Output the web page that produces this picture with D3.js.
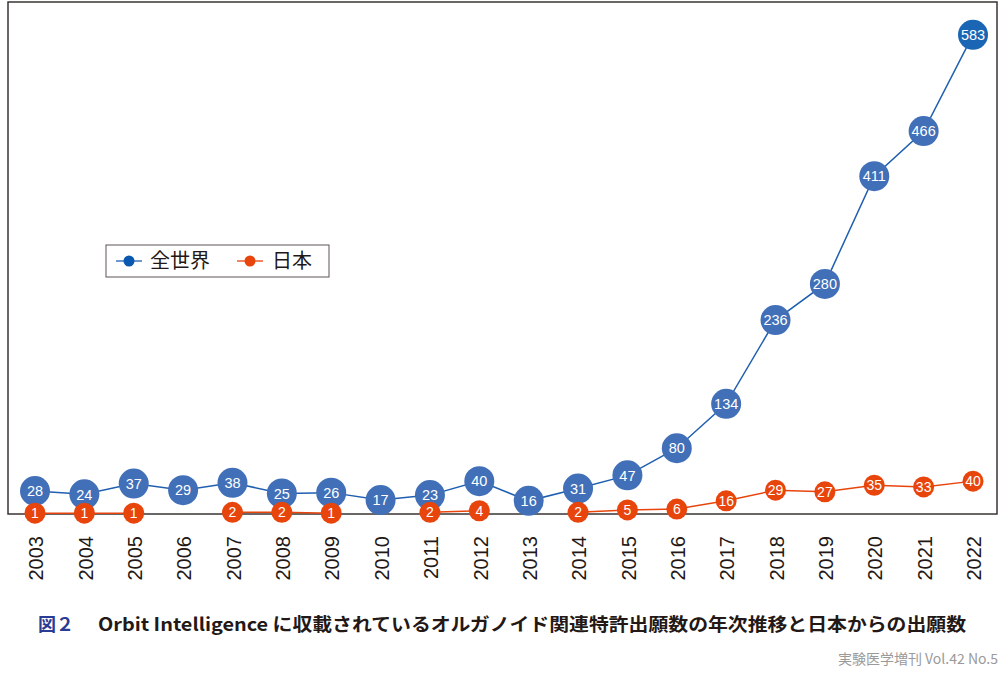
<!DOCTYPE html>
<html>
<head>
<meta charset="utf-8">
<script src="https://cdn.jsdelivr.net/npm/d3@7"></script>
<style>
  body { margin: 0; background: #fff; }
  svg { display: block; }
</style>
</head>
<body>
<svg id="chart" width="1000" height="678"></svg>
<script>
// data
const years = [2003, 2004, 2005, 2006, 2007, 2008, 2009, 2010, 2011, 2012,
               2013, 2014, 2015, 2016, 2017, 2018, 2019, 2020, 2021, 2022];
const worldCounts = [28, 24, 37, 29, 38, 25, 26, 17, 23, 40,
                     16, 31, 47, 80, 134, 236, 280, 411, 466, 583];
const japanCounts = [1, 1, 1, null, 2, 2, 1, null, 2, 4,
                     null, 2, 5, 6, 16, 29, 27, 35, 33, 40];
const seriesNames = ["全世界", "日本"];
const captionLabel = "図２";
const captionText = "Orbit Intelligence に収載されているオルガノイド関連特許出願数の年次推移と日本からの出願数";
const sourceText = "実験医学増刊 Vol.42 No.5";

const plot = { left: 8, top: 2, right: 997, bottom: 514 };
const blueLine = "#1f5fb0", blueDot = "#4170b8";
const orange = "#e8450c";
const numFont = "'Liberation Sans', Arial, sans-serif";
const jpFont = "'Noto Sans CJK JP', 'Noto Sans', sans-serif";

const svg = d3.select("#chart");

const xScale = d3.scalePoint()
    .domain(years)
    .range([35, 973]);

const yScale = d3.scaleLinear()
    .domain([0, 623])
    .range([plot.bottom, plot.top]);

// frame
svg.append("rect")
    .attr("x", plot.left)
    .attr("y", plot.top)
    .attr("width", plot.right - plot.left)
    .attr("height", plot.bottom - plot.top)
    .attr("fill", "none")
    .attr("stroke", "#3a3433")
    .attr("stroke-width", 1.5);

// x axis labels
const xAxis = svg.append("g")
    .attr("transform", "translate(0," + plot.bottom + ")")
    .call(d3.axisBottom(xScale).tickSize(0).tickPadding(0));
xAxis.select(".domain").remove();
xAxis.selectAll("text")
    .attr("transform", "translate(0.5,22) rotate(-90)")
    .attr("dy", "0.36em")
    .attr("x", 0)
    .attr("y", 0)
    .attr("text-anchor", "end")
    .attr("font-family", numFont)
    .attr("font-size", 20)
    .attr("fill", "#231815");

const data = years.map((y, i) => ({ year: y, world: worldCounts[i], japan: japanCounts[i] }));

// world series
const worldLine = d3.line()
    .x(d => xScale(d.year))
    .y(d => yScale(d.world));
svg.append("path")
    .datum(data)
    .attr("d", worldLine)
    .attr("fill", "none")
    .attr("stroke", blueLine)
    .attr("stroke-width", 1.5);

const worldPts = svg.append("g").selectAll("g")
    .data(data)
    .enter()
    .append("g")
    .attr("transform", d => "translate(" + xScale(d.year) + "," + yScale(d.world) + ")");
worldPts.append("circle")
    .attr("r", 15)
    .attr("fill", d => d.year === 2022 ? "#1b66b4" : blueDot);
worldPts.append("text")
    .text(d => d.world)
    .attr("text-anchor", "middle")
    .attr("dy", "0.36em")
    .attr("font-family", numFont)
    .attr("font-size", 14.5)
    .attr("fill", "#fff");

// japan series
const japanLine = d3.line()
    .defined(d => d.japan != null)
    .x(d => xScale(d.year))
    .y(d => yScale(d.japan));
svg.append("path")
    .datum(data)
    .attr("d", japanLine)
    .attr("fill", "none")
    .attr("stroke", orange)
    .attr("stroke-width", 1.5);

const japanPts = svg.append("g").selectAll("g")
    .data(data.filter(d => d.japan != null))
    .enter()
    .append("g")
    .attr("transform", d => "translate(" + xScale(d.year) + "," + yScale(d.japan) + ")");
japanPts.append("circle")
    .attr("r", 10.5)
    .attr("fill", orange);
japanPts.append("text")
    .text(d => d.japan)
    .attr("text-anchor", "middle")
    .attr("dy", "0.36em")
    .attr("font-family", numFont)
    .attr("font-size", 14)
    .attr("fill", "#fff");

// legend
const legend = svg.append("g").attr("transform", "translate(106,245)");
legend.append("rect")
    .attr("width", 223)
    .attr("height", 32)
    .attr("fill", "#fff")
    .attr("stroke", "#5a5453")
    .attr("stroke-width", 1);
const legendItems = [
    { name: seriesNames[0], line: blueLine, dot: "#0a57b0", x: 10, tx: 44 },
    { name: seriesNames[1], line: orange, dot: orange, x: 131, tx: 166 }
];
legendItems.forEach(it => {
    legend.append("line")
        .attr("x1", it.x).attr("x2", it.x + 26)
        .attr("y1", 16).attr("y2", 16)
        .attr("stroke", it.line)
        .attr("stroke-width", 1.3);
    legend.append("circle")
        .attr("cx", it.x + 13).attr("cy", 16)
        .attr("r", 5.5)
        .attr("fill", it.dot);
    legend.append("text")
        .text(it.name)
        .attr("x", it.tx).attr("y", 16)
        .attr("dy", "0.36em")
        .attr("font-family", jpFont)
        .attr("font-size", 20)
        .attr("fill", "#231815");
});

// caption
svg.append("text")
    .text(captionLabel)
    .attr("x", 38).attr("y", 631)
    .attr("font-family", jpFont)
    .attr("font-weight", "bold")
    .attr("font-size", 18)
    .attr("fill", "#2b3a93");
svg.append("text")
    .text(captionText)
    .attr("x", 98).attr("y", 631)
    .attr("font-family", jpFont)
    .attr("font-weight", "bold")
    .attr("font-size", 18)
    .attr("textLength", 868)
    .attr("lengthAdjust", "spacingAndGlyphs")
    .attr("fill", "#231815");
svg.append("text")
    .text(sourceText)
    .attr("x", 998).attr("y", 664)
    .attr("text-anchor", "end")
    .attr("font-family", jpFont)
    .attr("font-size", 14)
    .attr("fill", "#9a9a9a");
</script>
</body>
</html>
